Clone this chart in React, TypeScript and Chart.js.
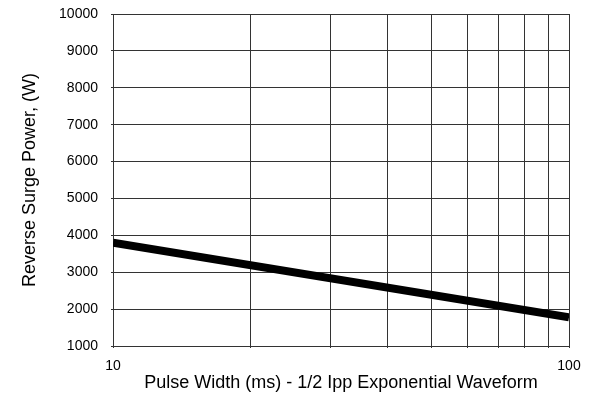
import React, { useEffect, useRef } from "react";
import { Chart, registerables } from "chart.js";

Chart.register(...registerables);

const pulseWidth = [10, 100];
const surgePower = [3800, 1780];
const xGridTicks = [10, 20, 30, 40, 50, 60, 70, 80, 90, 100];
const xLabelTicks = [10, 100];
const yMin = 1000;
const yMax = 10000;
const yStep = 1000;

export default function App() {
  const ref = useRef<HTMLCanvasElement | null>(null);
  useEffect(() => {
    if (!ref.current) return;
    const font = "Arial, 'Liberation Sans', sans-serif";
    const chart = new Chart(ref.current, {
      type: "line",
      data: {
        datasets: [
          {
            data: pulseWidth.map((x, i) => ({ x, y: surgePower[i] })),
            borderColor: "#000",
            borderWidth: 8,
            pointRadius: 0,
            borderCapStyle: "butt",
            fill: false,
          },
        ],
      },
      options: {
        animation: false,
        responsive: false,
        maintainAspectRatio: false,
        layout: { padding: { top: 14, right: 24, left: 0, bottom: 0 } },
        plugins: { legend: { display: false }, tooltip: { enabled: false } },
        scales: {
          x: {
            type: "logarithmic",
            min: 10,
            max: 100,
            afterBuildTicks: (axis: any) => {
              axis.ticks = xGridTicks.map((v) => ({ value: v }));
            },
            afterFit: (axis: any) => {
              axis.height = 60;
              axis.paddingLeft = 0;
              axis.paddingRight = 0;
            },
            ticks: {
              autoSkip: false,
              maxRotation: 0,
              color: "#000",
              font: { family: font, size: 14 },
              padding: 10,
              callback: (v: any) => (xLabelTicks.includes(Number(v)) ? String(v) : ""),
            },
            grid: { color: "#333", lineWidth: 1, tickLength: 2, drawTicks: true },
            border: { color: "#333" },
            title: {
              display: true,
              text: "Pulse Width (ms) - 1/2 Ipp Exponential Waveform",
              color: "#000",
              font: { family: font, size: 18 },
              padding: { top: 4, bottom: 12 },
            },
          },
          y: {
            type: "linear",
            min: yMin,
            max: yMax,
            afterFit: (axis: any) => {
              axis.width = 113;
              axis.paddingTop = 0;
              axis.paddingBottom = 0;
            },
            ticks: {
              stepSize: yStep,
              color: "#000",
              font: { family: font, size: 14 },
              padding: 13,
              callback: (v: any) => String(v),
            },
            grid: { color: "#333", lineWidth: 1, tickLength: 2 },
            border: { color: "#333" },
            title: {
              display: true,
              text: "Reverse Surge Power, (W)",
              color: "#000",
              font: { family: font, size: 18 },
              padding: { top: 19, bottom: 4 },
            },
          },
        },
      },
    });
    return () => chart.destroy();
  }, []);
  return (
    <div style={{ position: "fixed", left: 0, top: 0, width: 593, height: 406, background: "#fff" }}>
      <canvas ref={ref} width={593} height={406} style={{ width: 593, height: 406 }} />
    </div>
  );
}
